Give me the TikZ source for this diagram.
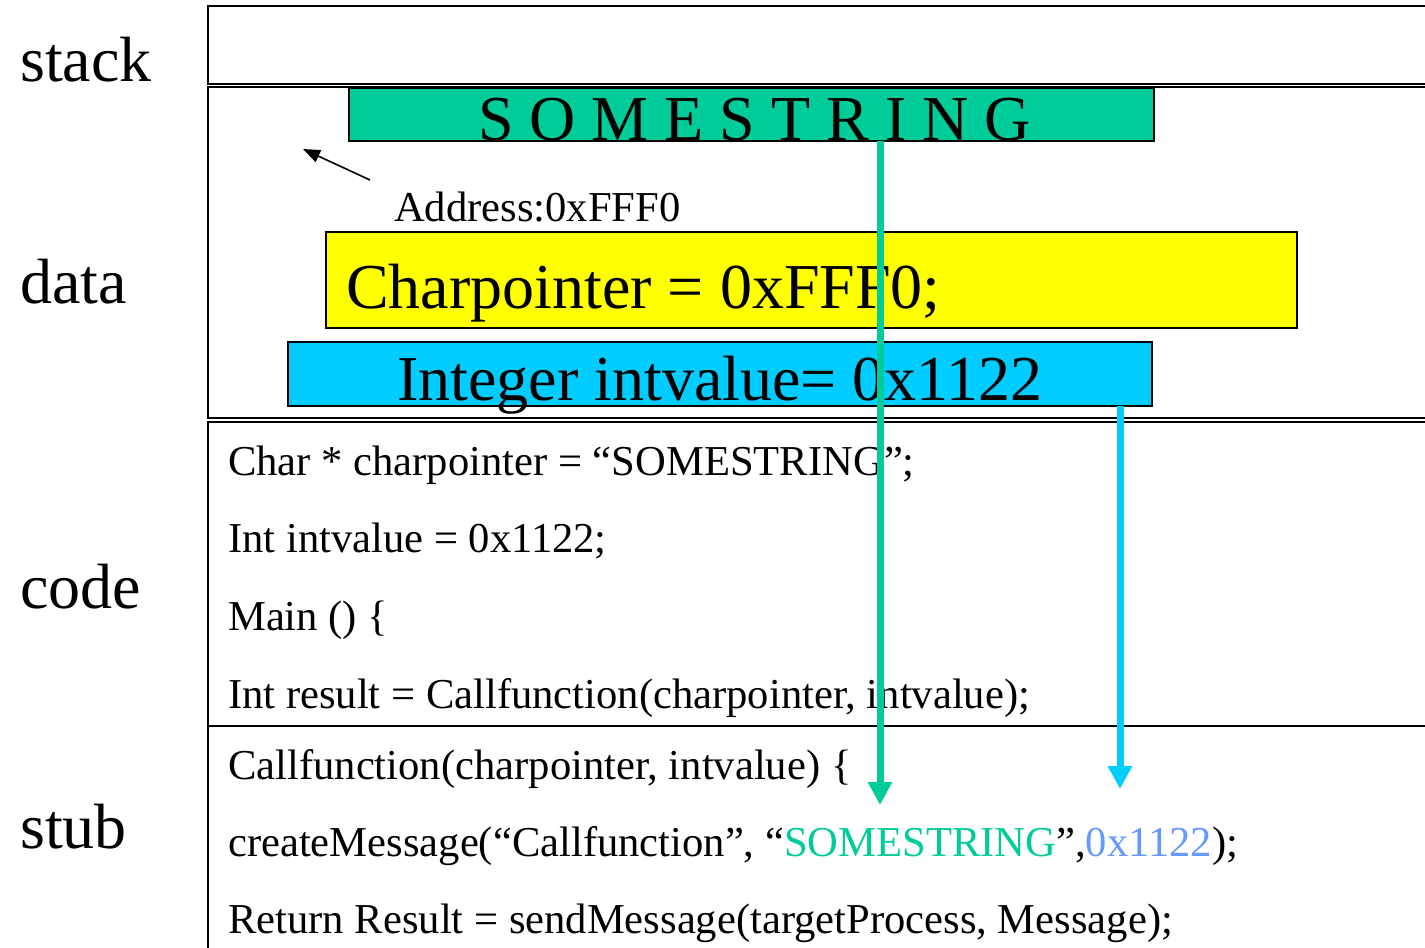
\documentclass[tikz,border=0pt]{standalone}
\usepackage{fontspec}
\setmainfont{Liberation Serif}
\usetikzlibrary{arrows.meta}
\definecolor{strgreen}{HTML}{00CC99}
\definecolor{intcyan}{HTML}{00CCFF}
\definecolor{valblue}{HTML}{6699FF}
\definecolor{markyellow}{HTML}{FFFF00}
\newcommand\fsz[1]{\fontsize{#1}{#1}\selectfont}

\begin{document}
\begin{tikzpicture}[x=1pt,y=-1pt,
  region/.style={draw=black,line width=1.8pt,anchor=north west,inner sep=0pt,outer sep=0pt},
  cell/.style={draw=black,line width=1.8pt,anchor=north west,inner sep=0pt,outer sep=0pt},
  seglabel/.style={anchor=base west,inner sep=0pt,font=\fsz{64}},
  bigtext/.style={anchor=base west,inner sep=0pt,font=\fsz{64}},
  codeline/.style={anchor=base west,inner sep=0pt,font=\fsz{42.6}},
  flow/.style={line width=7pt,-{Triangle[width=23pt,length=23pt]}}]

\useasboundingbox (0,0) rectangle (1425,948);
\fill[white] (0,0) rectangle (1425,948);
\clip (0,0) rectangle (1425,948);

% memory segments
\node[region,minimum width=1300pt,minimum height=78pt]  (stack) at (208,6)   {};
\node[region,minimum width=1300pt,minimum height=331pt] (data)  at (208,87)  {};
\node[region,minimum width=1300pt,minimum height=304pt] (code)  at (208,422) {};
\node[region,minimum width=1300pt,minimum height=300pt] (stub)  at (208,726) {};

% segment names
\node[seglabel] (lstack) at (20,81)  {stack};
\node[seglabel] (ldata)  at (20,303) {data};
\node[seglabel] (lcode)  at (20,608) {code};
\node[seglabel] (lstub)  at (20,848) {stub};

% contents of the data segment
\node[cell,fill=strgreen,minimum width=805pt,minimum height=53pt] (gbox) at (349,88) {};
\node[bigtext] (gtext) at (478,140) {S O M E S T R I N G};

\node[codeline] (addr) at (394,221) {Address:0xFFF0};
\coordinate (ptail) at (370,180);
\coordinate (phead) at (303,149);
\draw[line width=1.6pt,-{Triangle[width=13pt,length=17pt]}] (ptail) -- (phead);

\node[cell,fill=markyellow,minimum width=971pt,minimum height=96pt] (ybox) at (326,232) {};
\node[bigtext] (ytext) at (346,308) {Charpointer = 0xFFF0;};

\node[cell,fill=intcyan,minimum width=864pt,minimum height=64pt] (cbox) at (288,342) {};
\node[bigtext] (ctext) at (397,400) {Integer intvalue= 0x1122};

% code segment
\node[codeline] (c1) at (228,475) {Char * charpointer = “SOMESTRING”;};
\node[codeline] (c2) at (228,552) {Int intvalue = 0x1122;};
\node[codeline] (c3) at (228,630) {Main () \{};
\node[codeline] (c4) at (228,708) {Int result = Callfunction(charpointer, intvalue);};

% stub segment
\node[codeline] (s1) at (228,779) {Callfunction(charpointer, intvalue) \{};
\node[codeline] (s2) at (228,856) {createMessage(“Callfunction”, “\textcolor{strgreen}{SOMESTRING}”,\textcolor{valblue}{0x1122});};
\node[codeline] (s3) at (228,933) {Return Result = sendMessage(targetProcess, Message);};

% values copied into the message
\coordinate (gend) at (880,805);
\coordinate (cend) at (1120,789);
\draw[flow,draw=strgreen,fill=strgreen] (gbox.south -| gend) -- (gend);
\draw[flow,draw=intcyan,fill=intcyan] (cbox.south -| cend) -- (cend);
\end{tikzpicture}
\end{document}
